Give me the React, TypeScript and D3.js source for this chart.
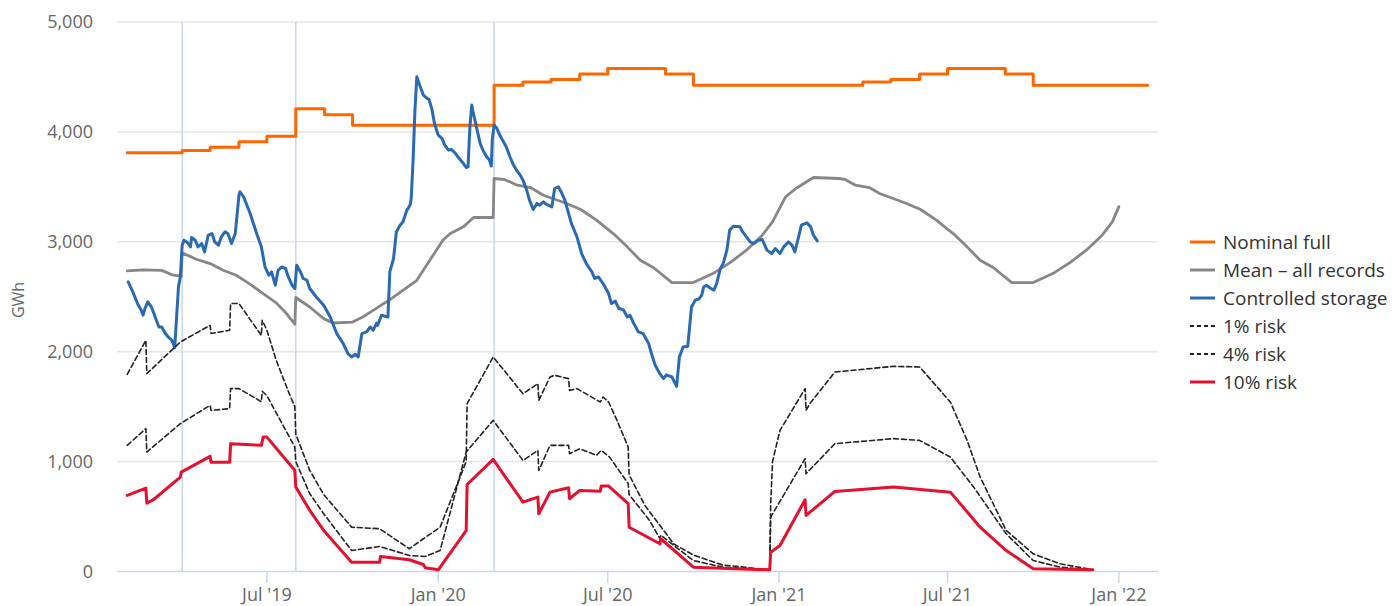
import React from "react";
import * as d3 from "d3";

type Pt = [string, number];

// monthly nominal full storage (step line)
const nominalFull: Pt[] = [
  ["2019-02-01", 3810], ["2019-04-01", 3830], ["2019-05-01", 3860], ["2019-06-01", 3910],
  ["2019-07-01", 3960], ["2019-08-01", 4210], ["2019-09-01", 4155], ["2019-10-01", 4060],
  ["2020-03-01", 4425], ["2020-04-01", 4455], ["2020-05-01", 4477], ["2020-06-01", 4526],
  ["2020-07-01", 4578], ["2020-09-01", 4526], ["2020-10-01", 4425], ["2021-04-01", 4455],
  ["2021-05-01", 4477], ["2021-06-01", 4526], ["2021-07-01", 4578], ["2021-09-01", 4526],
  ["2021-10-01", 4425], ["2022-02-01", 4425],
];

const meanAll: Pt[] = [
  ["2019-02-01", 2735], ["2019-02-18", 2745], ["2019-03-10", 2740], ["2019-03-21", 2700],
  ["2019-03-31", 2687], ["2019-04-01", 2899], ["2019-04-17", 2839], ["2019-05-01", 2802],
  ["2019-05-15", 2741], ["2019-05-29", 2696], ["2019-06-12", 2620], ["2019-06-27", 2529],
  ["2019-07-11", 2444], ["2019-07-22", 2347], ["2019-07-31", 2250], ["2019-08-01", 2493],
  ["2019-08-16", 2407], ["2019-08-31", 2301], ["2019-09-10", 2261], ["2019-10-01", 2270],
  ["2019-10-12", 2316], ["2019-10-26", 2392], ["2019-11-09", 2468], ["2019-11-24", 2559],
  ["2019-12-09", 2650], ["2019-12-23", 2832], ["2020-01-06", 3015], ["2020-01-14", 3075],
  ["2020-01-28", 3136], ["2020-02-08", 3221], ["2020-02-29", 3221], ["2020-03-01", 3576],
  ["2020-03-12", 3567], ["2020-03-26", 3515], ["2020-04-09", 3494], ["2020-04-23", 3424],
  ["2020-05-18", 3349], ["2020-06-02", 3294], ["2020-06-19", 3197], ["2020-07-07", 3075],
  ["2020-07-22", 2954], ["2020-08-05", 2832], ["2020-08-19", 2766], ["2020-09-08", 2629],
  ["2020-10-01", 2629], ["2020-10-22", 2711], ["2020-11-09", 2808], ["2020-11-27", 2924],
  ["2020-12-14", 3060], ["2020-12-25", 3181], ["2021-01-08", 3409], ["2021-01-19", 3485],
  ["2021-02-07", 3585], ["2021-03-06", 3576], ["2021-03-13", 3567], ["2021-03-24", 3515],
  ["2021-04-08", 3494], ["2021-04-19", 3440], ["2021-05-18", 3349], ["2021-06-02", 3294],
  ["2021-06-19", 3197], ["2021-07-07", 3075], ["2021-07-22", 2954], ["2021-08-05", 2832],
  ["2021-08-19", 2766], ["2021-09-08", 2629], ["2021-10-01", 2629], ["2021-10-22", 2711],
  ["2021-11-09", 2808], ["2021-11-27", 2924], ["2021-12-14", 3060], ["2021-12-25", 3181],
  ["2022-01-01", 3320],
];

const controlled: Pt[] = [
  ["2019-02-02", 2635], ["2019-02-07", 2544], ["2019-02-12", 2438], ["2019-02-16", 2377],
  ["2019-02-18", 2332], ["2019-02-20", 2393], ["2019-02-23", 2453], ["2019-02-27", 2407],
  ["2019-03-03", 2316], ["2019-03-07", 2225], ["2019-03-10", 2225], ["2019-03-14", 2165],
  ["2019-03-17", 2134], ["2019-03-21", 2104], ["2019-03-24", 2037], ["2019-03-26", 2316],
  ["2019-03-28", 2589], ["2019-03-30", 2680], ["2019-04-01", 2969], ["2019-04-03", 3015],
  ["2019-04-06", 2999], ["2019-04-10", 2954], ["2019-04-11", 3039], ["2019-04-15", 3015],
  ["2019-04-18", 2954], ["2019-04-22", 2984], ["2019-04-25", 2908], ["2019-04-29", 3060],
  ["2019-05-03", 3075], ["2019-05-06", 2999], ["2019-05-10", 2969], ["2019-05-13", 3045],
  ["2019-05-17", 3090], ["2019-05-20", 3075], ["2019-05-24", 2984], ["2019-05-28", 3075],
  ["2019-06-01", 3424], ["2019-06-02", 3455], ["2019-06-06", 3409], ["2019-06-13", 3258],
  ["2019-06-20", 3075], ["2019-06-25", 2954], ["2019-06-29", 2771], ["2019-07-03", 2696],
  ["2019-07-06", 2726], ["2019-07-10", 2605], ["2019-07-13", 2741], ["2019-07-17", 2771],
  ["2019-07-21", 2757], ["2019-07-24", 2680], ["2019-07-28", 2605], ["2019-07-31", 2575],
  ["2019-08-02", 2787], ["2019-08-06", 2726], ["2019-08-09", 2666], ["2019-08-13", 2650],
  ["2019-08-16", 2575], ["2019-08-23", 2498], ["2019-08-31", 2423], ["2019-09-07", 2316],
  ["2019-09-14", 2165], ["2019-09-21", 2074], ["2019-09-26", 1983], ["2019-09-30", 1952],
  ["2019-10-04", 1976], ["2019-10-07", 1952], ["2019-10-11", 2165], ["2019-10-16", 2180],
  ["2019-10-20", 2225], ["2019-10-23", 2195], ["2019-10-27", 2261], ["2019-10-28", 2240],
  ["2019-11-01", 2332], ["2019-11-05", 2322], ["2019-11-08", 2316], ["2019-11-10", 2726],
  ["2019-11-14", 2848], ["2019-11-17", 3090], ["2019-11-21", 3151], ["2019-11-24", 3180],
  ["2019-11-28", 3280], ["2019-12-02", 3340], ["2019-12-03", 3400], ["2019-12-05", 3743],
  ["2019-12-07", 4199], ["2019-12-09", 4502], ["2019-12-12", 4426], ["2019-12-16", 4335],
  ["2019-12-20", 4305], ["2019-12-22", 4296], ["2019-12-25", 4214], ["2019-12-28", 4077],
  ["2020-01-01", 3971], ["2020-01-05", 3941], ["2020-01-08", 3880], ["2020-01-12", 3834],
  ["2020-01-15", 3840], ["2020-01-19", 3810], ["2020-01-22", 3774], ["2020-01-28", 3713],
  ["2020-01-31", 3676], ["2020-02-02", 3682], ["2020-02-04", 4046], ["2020-02-06", 4244],
  ["2020-02-07", 4199], ["2020-02-11", 4046], ["2020-02-15", 3895], ["2020-02-18", 3834],
  ["2020-02-22", 3774], ["2020-02-25", 3743], ["2020-02-27", 3689], ["2020-02-28", 3925],
  ["2020-03-01", 4062], ["2020-03-04", 4032], ["2020-03-07", 3971], ["2020-03-11", 3910],
  ["2020-03-14", 3865], ["2020-03-18", 3774], ["2020-03-21", 3713], ["2020-03-25", 3652],
  ["2020-03-29", 3607], ["2020-04-01", 3561], ["2020-04-05", 3470], ["2020-04-08", 3379],
  ["2020-04-12", 3294], ["2020-04-16", 3349], ["2020-04-19", 3333], ["2020-04-23", 3364],
  ["2020-04-26", 3342], ["2020-05-02", 3318], ["2020-05-05", 3485], ["2020-05-09", 3500],
  ["2020-05-12", 3455], ["2020-05-16", 3379], ["2020-05-20", 3258], ["2020-05-23", 3167],
  ["2020-05-29", 3045], ["2020-06-03", 2893], ["2020-06-08", 2802], ["2020-06-14", 2726],
  ["2020-06-17", 2666], ["2020-06-21", 2680], ["2020-06-26", 2620], ["2020-07-02", 2529],
  ["2020-07-05", 2438], ["2020-07-09", 2460], ["2020-07-13", 2393], ["2020-07-18", 2380],
  ["2020-07-22", 2316], ["2020-07-25", 2330], ["2020-07-29", 2256], ["2020-08-03", 2180],
  ["2020-08-08", 2165], ["2020-08-14", 2074], ["2020-08-17", 1983], ["2020-08-21", 1876],
  ["2020-08-26", 1800], ["2020-08-30", 1755], ["2020-09-02", 1790], ["2020-09-08", 1770],
  ["2020-09-13", 1685], ["2020-09-16", 1952], ["2020-09-20", 2043], ["2020-09-25", 2050],
  ["2020-09-29", 2407], ["2020-10-03", 2468], ["2020-10-07", 2480], ["2020-10-10", 2514],
  ["2020-10-12", 2589], ["2020-10-15", 2605], ["2020-10-19", 2580], ["2020-10-23", 2559],
  ["2020-10-26", 2620], ["2020-10-30", 2757], ["2020-11-02", 2802], ["2020-11-06", 2924],
  ["2020-11-09", 3106], ["2020-11-13", 3142], ["2020-11-20", 3136], ["2020-11-23", 3090],
  ["2020-11-27", 3045], ["2020-12-01", 2999], ["2020-12-05", 2984], ["2020-12-10", 3015],
  ["2020-12-14", 3021], ["2020-12-19", 2924], ["2020-12-24", 2893], ["2020-12-28", 2939],
  ["2021-01-02", 2893], ["2021-01-06", 2954], ["2021-01-11", 2999], ["2021-01-15", 2969],
  ["2021-01-18", 2908], ["2021-01-22", 3045], ["2021-01-25", 3151], ["2021-01-31", 3172],
  ["2021-02-04", 3136], ["2021-02-07", 3060], ["2021-02-11", 3008],
];

const risk1: Pt[] = [
  ["2019-02-01", 1794], ["2019-02-21", 2104], ["2019-02-22", 1800], ["2019-03-30", 2088],
  ["2019-05-01", 2240], ["2019-05-02", 2165], ["2019-05-22", 2195], ["2019-05-23", 2438],
  ["2019-06-01", 2438], ["2019-06-25", 2149], ["2019-06-26", 2286], ["2019-07-01", 2195],
  ["2019-07-11", 1922], ["2019-07-25", 1618], ["2019-07-31", 1500], ["2019-08-01", 1250],
  ["2019-08-16", 920], ["2019-08-31", 700], ["2019-09-30", 403], ["2019-10-30", 389],
  ["2019-12-01", 207], ["2019-12-16", 298], ["2020-01-03", 403], ["2020-01-31", 1000],
  ["2020-02-01", 1527], ["2020-02-29", 1952], ["2020-04-01", 1618], ["2020-04-17", 1709],
  ["2020-04-18", 1557], ["2020-04-30", 1770], ["2020-05-05", 1785], ["2020-05-20", 1755],
  ["2020-05-21", 1648], ["2020-05-29", 1664], ["2020-06-23", 1542], ["2020-06-26", 1588],
  ["2020-07-02", 1542], ["2020-07-11", 1375], ["2020-07-23", 1132], ["2020-07-24", 880],
  ["2020-08-10", 600], ["2020-08-26", 420], ["2020-09-10", 250], ["2020-10-01", 150],
  ["2020-11-01", 60], ["2020-12-22", 15], ["2020-12-23", 600], ["2020-12-25", 1000],
  ["2021-01-02", 1284], ["2021-01-29", 1664], ["2021-01-30", 1466], ["2021-02-03", 1527],
  ["2021-03-02", 1815], ["2021-05-04", 1867], ["2021-06-01", 1861], ["2021-07-04", 1542],
  ["2021-07-22", 1193], ["2021-08-05", 859], ["2021-09-02", 373], ["2021-10-01", 161],
  ["2021-10-30", 70], ["2021-12-04", 15],
];

const risk4: Pt[] = [
  ["2019-02-01", 1148], ["2019-02-21", 1300], ["2019-02-22", 1087], ["2019-03-30", 1345],
  ["2019-05-01", 1512], ["2019-05-02", 1466], ["2019-05-22", 1482], ["2019-05-23", 1664],
  ["2019-06-01", 1664], ["2019-06-25", 1545], ["2019-06-26", 1640], ["2019-07-01", 1600],
  ["2019-07-31", 1132], ["2019-08-01", 1000], ["2019-08-16", 708], ["2019-08-31", 525],
  ["2019-09-30", 191], ["2019-10-30", 228], ["2019-12-01", 146], ["2019-12-18", 137],
  ["2020-01-03", 191], ["2020-01-31", 1087], ["2020-02-29", 1375], ["2020-04-01", 1011],
  ["2020-04-17", 1102], ["2020-04-18", 920], ["2020-04-30", 1148], ["2020-05-20", 1148],
  ["2020-05-21", 1072], ["2020-06-01", 1117], ["2020-06-19", 1057], ["2020-06-24", 1102],
  ["2020-07-03", 1041], ["2020-07-23", 800], ["2020-07-24", 700], ["2020-08-15", 464],
  ["2020-08-26", 300], ["2020-08-27", 330], ["2020-10-01", 100], ["2020-11-01", 40],
  ["2020-12-22", 15], ["2020-12-23", 495], ["2021-01-29", 1026], ["2021-01-30", 890],
  ["2021-03-02", 1163], ["2021-05-04", 1209], ["2021-06-01", 1193], ["2021-07-04", 1041],
  ["2021-07-29", 768], ["2021-09-02", 343], ["2021-10-01", 100], ["2021-10-30", 39],
  ["2021-12-04", 15],
];

const risk10: Pt[] = [
  ["2019-02-01", 692], ["2019-02-21", 759], ["2019-02-22", 622], ["2019-03-01", 653],
  ["2019-03-30", 859], ["2019-03-31", 904], ["2019-05-01", 1047], ["2019-05-02", 995],
  ["2019-05-22", 995], ["2019-05-23", 1163], ["2019-06-25", 1148], ["2019-06-27", 1223],
  ["2019-07-01", 1223], ["2019-07-25", 981], ["2019-07-31", 920], ["2019-08-01", 768],
  ["2019-08-16", 556], ["2019-08-31", 373], ["2019-09-30", 85], ["2019-10-30", 85],
  ["2019-10-31", 137], ["2019-12-01", 107], ["2019-12-16", 64], ["2019-12-18", 34],
  ["2020-01-01", 15], ["2020-01-31", 373], ["2020-02-01", 792], ["2020-02-29", 1020],
  ["2020-04-01", 631], ["2020-04-17", 677], ["2020-04-18", 525], ["2020-04-30", 722],
  ["2020-05-20", 762], ["2020-05-21", 662], ["2020-06-01", 738], ["2020-06-23", 731],
  ["2020-06-24", 777], ["2020-07-02", 777], ["2020-07-23", 617], ["2020-07-24", 403],
  ["2020-08-26", 252], ["2020-08-27", 298], ["2020-10-01", 39], ["2020-12-22", 15],
  ["2020-12-23", 176], ["2021-01-02", 237], ["2021-01-29", 653], ["2021-01-30", 510],
  ["2021-03-02", 729], ["2021-05-04", 768], ["2021-07-04", 722], ["2021-08-05", 403],
  ["2021-09-02", 191], ["2021-10-01", 25], ["2021-12-04", 15],
];

const plotLineDates = ["2019-04-01", "2019-08-01", "2020-03-01"];
const xTickDates = ["2019-07-01", "2020-01-01", "2020-07-01", "2021-01-01", "2021-07-01", "2022-01-01"];
const yTicks = [0, 1000, 2000, 3000, 4000, 5000];
const xDomain = ["2019-01-21", "2022-02-12"];

const W = 1394;
const H = 606;
const FONT = "'Open Sans', 'DejaVu Sans', sans-serif";

const parse = d3.utcParse("%Y-%m-%d");

const series = [
  { name: "Nominal full", label: "Nominal full", data: nominalFull, color: "#ff6600", width: 3, dash: null, step: true },
  { name: "Mean", label: "Mean \u2013 all records", data: meanAll, color: "#878787", width: 2.8, dash: null, step: false },
  { name: "Controlled", label: "Controlled storage", data: controlled, color: "#2a6ab3", width: 3, dash: null, step: false },
  { name: "r1", label: "1% risk", data: risk1, color: "#222", width: 1.6, dash: "5,3", step: false },
  { name: "r4", label: "4% risk", data: risk4, color: "#222", width: 1.6, dash: "5,3", step: false },
  { name: "r10", label: "10% risk", data: risk10, color: "#e5102e", width: 3, dash: null, step: false },
];

export default function App() {
  const x = d3.scaleUtc()
    .domain(xDomain.map(d => parse(d) as Date))
    .range([117, 1158]);
  const y = d3.scaleLinear().domain([0, 5000]).range([571.5, 22]);
  const fmtX = d3.utcFormat("%b '%y");
  const fmtY = d3.format(",");

  return (
    <svg width={W} height={H} style={{ position: "absolute", left: 0, top: 0, background: "#fff" }}
      fontFamily={FONT}>
      {yTicks.map(t => (
        <g key={t}>
          {t > 0 && <line x1={117} x2={1158} y1={y(t)} y2={y(t)} stroke="#e6e6e6" strokeWidth={1.5} />}
          <text x={93} y={y(t)} dy="0.35em" textAnchor="end" fontSize={18} fill="#666">{fmtY(t)}</text>
        </g>
      ))}
      {plotLineDates.map(d => (
        <line key={d} x1={x(parse(d) as Date)} x2={x(parse(d) as Date)} y1={22} y2={571.5}
          stroke="#ccd6eb" strokeWidth={1.5} />
      ))}
      <line x1={117} x2={1158} y1={571.5} y2={571.5} stroke="#ccd6eb" strokeWidth={1.5} />
      {xTickDates.map(d => {
        const px = x(parse(d) as Date);
        return (
          <g key={d}>
            <line x1={px} x2={px} y1={571.5} y2={583} stroke="#ccd6eb" strokeWidth={1.5} />
            <text x={px} y={601} textAnchor="middle" fontSize={18} fill="#666">{fmtX(parse(d) as Date)}</text>
          </g>
        );
      })}
      <text transform="translate(24,300) rotate(-90)" textAnchor="middle" fontSize={16} fill="#666">GWh</text>

      {series.map(s => {
        const gen = d3.line<Pt>()
          .x(p => x(parse(p[0]) as Date))
          .y(p => y(p[1]))
          .curve(s.step ? d3.curveStepAfter : d3.curveLinear);
        return (
          <path key={s.name} d={gen(s.data) || ""} fill="none" stroke={s.color}
            strokeWidth={s.width} strokeDasharray={s.dash || undefined}
            strokeLinejoin="round" strokeLinecap="round" />
        );
      })}

      {series.map((s, i) => {
        const ly = 242 + i * 28;
        return (
          <g key={s.name}>
            <line x1={1190} x2={1215} y1={ly} y2={ly} stroke={s.color}
              strokeWidth={s.dash ? 1.8 : 3} strokeDasharray={s.dash ? "4,3" : undefined} />
            <text x={1223} y={ly} dy="0.35em" fontSize={19} fill="#333">{s.label}</text>
          </g>
        );
      })}
    </svg>
  );
}
